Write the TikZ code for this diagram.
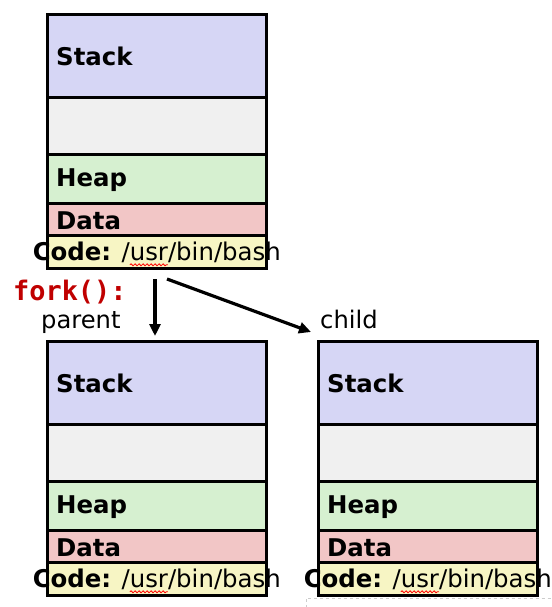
\documentclass[tikz,border=0pt]{standalone}
\usepackage{fontspec}
\setmainfont{DejaVu Sans}
\newfontfamily\monobold{DejaVu Sans Mono}
\usetikzlibrary{arrows.meta,decorations.pathmorphing}
\definecolor{stackc}{RGB}{214,214,245}
\definecolor{blankc}{RGB}{240,240,240}
\definecolor{heapc}{RGB}{214,240,208}
\definecolor{datac}{RGB}{242,198,198}
\definecolor{codec}{RGB}{247,245,196}
\definecolor{forkred}{RGB}{192,0,0}
\tikzset{
  seg/.style={draw=black, line width=2.6bp, rectangle, inner sep=0pt, minimum width=219bp, anchor=north west},
  lab/.style={font=\fontsize{24.5}{27}\selectfont\bfseries, anchor=west, inner sep=0pt},
  codelab/.style={font=\fontsize{24.5}{27}\selectfont, inner sep=0pt},
  plain/.style={font=\fontsize{24.3}{27}\selectfont, inner sep=0pt},
  arr/.style={line width=3.2bp, -{Triangle[length=12bp,width=11bp]}},
  squig/.style={red, line width=0.8bp, decorate, decoration={snake, amplitude=1bp, segment length=4bp}}
}
\newcommand\memimage[3]{%
  \node[seg, fill=stackc, minimum height=83bp] (#1stack) at (#2,#3) {};
  \node[seg, fill=blankc, minimum height=57bp] (#1blank) at (#2,#3+83) {};
  \node[seg, fill=heapc, minimum height=49bp] (#1heap) at (#2,#3+140) {};
  \node[seg, fill=datac, minimum height=32bp] (#1data) at (#2,#3+189) {};
  \node[seg, fill=codec, minimum height=33bp] (#1code) at (#2,#3+221) {};
  \node[lab] (#1stacklab) at ([xshift=10bp,yshift=-1bp]#1stack.west) {Stack};
  \node[lab] (#1heaplab) at ([xshift=10bp,yshift=-1bp]#1heap.west) {Heap};
  \node[lab] (#1datalab) at ([xshift=10bp,yshift=-1bp]#1data.west) {Data};
  \node[codelab] (#1codelab) at ([yshift=-1bp]#1code.center) {\textbf{Code:} /usr/bin/bash};
  \draw[squig] ([xshift=-27bp,yshift=-13bp]#1code.center) -- ([xshift=11bp,yshift=-13bp]#1code.center);
}
\begin{document}
\begin{tikzpicture}[x=1bp,y=-1bp]
\useasboundingbox (0,0) rectangle (552,607);
\fill[white] (0,0) rectangle (552,607);
\memimage{p}{46}{13}
\memimage{l}{46}{340}
\memimage{r}{317}{340}
\draw[gray!40, dashed, line width=0.8bp] (306,607.5) -- (306,598) -- (553,598);
\node[font=\monobold\fontsize{27}{29}\selectfont\bfseries, text=forkred, anchor=west, inner sep=0pt] (fork) at (13,292) {fork():};
\node[plain, anchor=west] (parent) at (41,323) {parent};
\node[plain, anchor=west] (child) at (320,319) {child};
\coordinate (a1) at (155,279);
\coordinate (a2) at (167,279);
\coordinate (t1) at (155,336);
\coordinate (t2) at (311,332);
\draw[arr] (a1) -- (t1);
\draw[arr] (a2) -- (t2);
\end{tikzpicture}
\end{document}
